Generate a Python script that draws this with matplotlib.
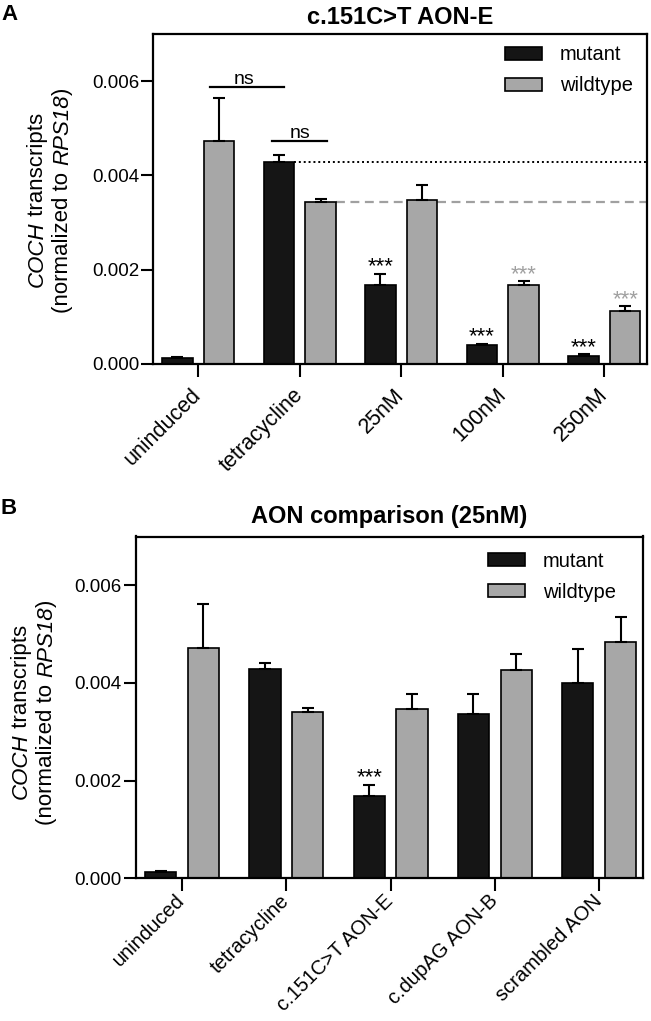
import numpy as np
import matplotlib
matplotlib.use("Agg")
import matplotlib.pyplot as plt

plt.rcParams['font.family'] = ['Liberation Sans', 'DejaVu Sans']

# ---------------- data ----------------
cats_a = ["uninduced", "tetracycline", "25nM", "100nM", "250nM"]
mut_a = [0.00012, 0.00429, 0.00167, 0.00040, 0.00018]
mut_a_err = [0.00003, 0.00014, 0.00024, 0.00003, 0.00003]
wt_a = [0.00473, 0.00343, 0.00347, 0.00168, 0.00113]
wt_a_err = [0.00092, 0.00007, 0.00032, 0.00007, 0.00009]
title_a = "c.151C>T AON-E"

cats_b = ["uninduced", "tetracycline", "c.151C>T AON-E", "c.dupAG AON-B", "scrambled AON"]
mut_b = [0.00012, 0.00428, 0.00168, 0.00336, 0.00399]
mut_b_err = [0.00003, 0.00013, 0.00024, 0.00042, 0.00070]
wt_b = [0.00471, 0.00341, 0.00346, 0.00427, 0.00484]
wt_b_err = [0.00091, 0.00007, 0.00031, 0.00032, 0.00051]
title_b = "AON comparison (25nM)"

series_names = ["mutant", "wildtype"]
yticks = [0.000, 0.002, 0.004, 0.006]
ytick_labels = ["0.000", "0.002", "0.004", "0.006"]

stars_a_mut = ["", "", "***", "***", "***"]
stars_a_wt = ["", "", "", "***", "***"]
stars_b_mut = ["", "", "***", "", ""]

MUT_C = "#151515"
WT_C = "#a7a7a7"
STAR_GRAY = "#a0a0a0"

fig = plt.figure(figsize=(6.51, 10.21), dpi=100)
W, H = 651, 1021
renderer = fig.canvas.get_renderer()


def px_axes(l, t, r, b):
    return fig.add_axes([l / W, 1 - b / H, (r - l) / W, (b - t) / H])


def draw_panel(ax, cats, mut, mut_err, wt, wt_err, title, stars_mut, stars_wt,
               title_pad, leg_anchor, xpad, xfs):
    x = np.arange(len(cats))
    off, bw = 0.205, 0.30
    ax.bar(x - off, mut, bw, color=MUT_C, edgecolor="black", linewidth=1.2,
           label=series_names[0], zorder=2)
    ax.bar(x + off, wt, bw, color=WT_C, edgecolor="black", linewidth=1.2,
           label=series_names[1], zorder=2)
    ax.errorbar(x - off, mut, yerr=[np.zeros(len(mut)), mut_err], fmt="none",
                ecolor="black", elinewidth=1.5, capsize=4.5, capthick=1.5, zorder=3)
    ax.errorbar(x + off, wt, yerr=[np.zeros(len(wt)), wt_err], fmt="none",
                ecolor="black", elinewidth=1.5, capsize=4.5, capthick=1.5, zorder=3)
    for i in range(len(cats)):
        if stars_mut[i]:
            ax.annotate(stars_mut[i], (x[i] - off, mut[i] + mut_err[i]),
                        xytext=(0, 1), textcoords="offset points",
                        ha="center", va="baseline", fontsize=16, color="black")
        if stars_wt is not None and stars_wt[i]:
            ax.annotate(stars_wt[i], (x[i] + off, wt[i] + wt_err[i]),
                        xytext=(0, 1), textcoords="offset points",
                        ha="center", va="baseline", fontsize=16, color=STAR_GRAY)
    ax.set_xlim(-0.445, 4.42)
    ax.set_ylim(0, 0.007)
    ax.set_yticks(yticks)
    ax.set_yticklabels(ytick_labels, fontsize=13.5)
    ax.set_xticks(x)
    ax.set_xticklabels(cats, fontsize=xfs, rotation=45, ha="right",
                       va="center", rotation_mode="anchor")
    ax.tick_params(axis="both", length=9, width=1.5, direction="out")
    ax.tick_params(axis="y", pad=1)
    ax.tick_params(axis="x", pad=xpad)
    for s in ax.spines.values():
        s.set_linewidth(1.6)
    ax.set_title(title, fontsize=17, fontweight="bold", pad=title_pad)
    ax.legend(loc="upper left", bbox_to_anchor=leg_anchor, frameon=False,
              fontsize=14.5, handlelength=1.85, handleheight=0.6,
              handletextpad=0.9, labelspacing=0.6, borderpad=0,
              borderaxespad=0)
    return x, off, bw


def rot_label(xc, yc, fontsize, gap):
    """Two-line vertical label with italic gene names; xc, yc in ref pixels."""
    lines = [[("COCH", "italic"), (" transcripts", "normal")],
             [("(normalized to ", "normal"), ("RPS18", "italic"), (")", "normal")]]
    em = fontsize / 72 * 100
    for li, pieces in enumerate(lines):
        widths = []
        for s, st in pieces:
            t = fig.text(0, 0, s, fontsize=fontsize, style=st)
            widths.append(t.get_window_extent(renderer).width)
            t.remove()
        L = sum(widths)
        xline = xc + (li - 0.5) * gap
        xb = xline + 0.36 * em
        y = (H - yc) - L / 2
        for (s, st), w in zip(pieces, widths):
            fig.text(xb / W, y / H, s, fontsize=fontsize, style=st, rotation=90,
                     rotation_mode="anchor", ha="left", va="baseline")
            y += w


# ---------------- panel A ----------------
axA = px_axes(153, 34, 647, 364)
xa, off, bw = draw_panel(axA, cats_a, mut_a, mut_a_err, wt_a, wt_a_err, title_a,
                         stars_a_mut, stars_a_wt, 7, (0.712, 0.966), 11, 15.5)
axA.plot([xa[1] - off + bw / 2, 4.42], [mut_a[1], mut_a[1]], color="black",
         linestyle=(0, (1, 1.5)), linewidth=1.4, zorder=1)
axA.plot([xa[1] + off + bw / 2, 4.42], [wt_a[1], wt_a[1]], color="#a0a0a0",
         linestyle=(0, (4, 2.5)), linewidth=1.6, zorder=1)
ns_y1 = wt_a[0] + wt_a_err[0] + 0.00022
axA.plot([0.12, 0.845], [ns_y1, ns_y1], color="black", linewidth=1.6)
axA.annotate("ns", (0.45, ns_y1), xytext=(0, 2.5), textcoords="offset points",
             ha="center", va="baseline", fontsize=14)
ns_y2 = mut_a[1] + mut_a_err[1] + 0.0003
axA.plot([0.73, 1.265], [ns_y2, ns_y2], color="black", linewidth=1.6)
axA.annotate("ns", (1.0, ns_y2), xytext=(0, 2.5), textcoords="offset points",
             ha="center", va="baseline", fontsize=14)

rot_label(47.5, 200, 16, 25)
fig.text(10 / W, 1 - 15 / H, "A", ha="center", va="center", fontsize=16,
         fontweight="bold")

# ---------------- panel B ----------------
axB = px_axes(135.5, 536.5, 643, 878.3)
draw_panel(axB, cats_b, mut_b, mut_b_err, wt_b, wt_b_err, title_b,
           stars_b_mut, None, 10, (0.694, 0.955), 5, 14.5)
rot_label(31.5, 712, 16, 25)
fig.text(9 / W, 1 - 508 / H, "B", ha="center", va="center", fontsize=16,
         fontweight="bold")

fig.savefig("out.png", dpi=100)
